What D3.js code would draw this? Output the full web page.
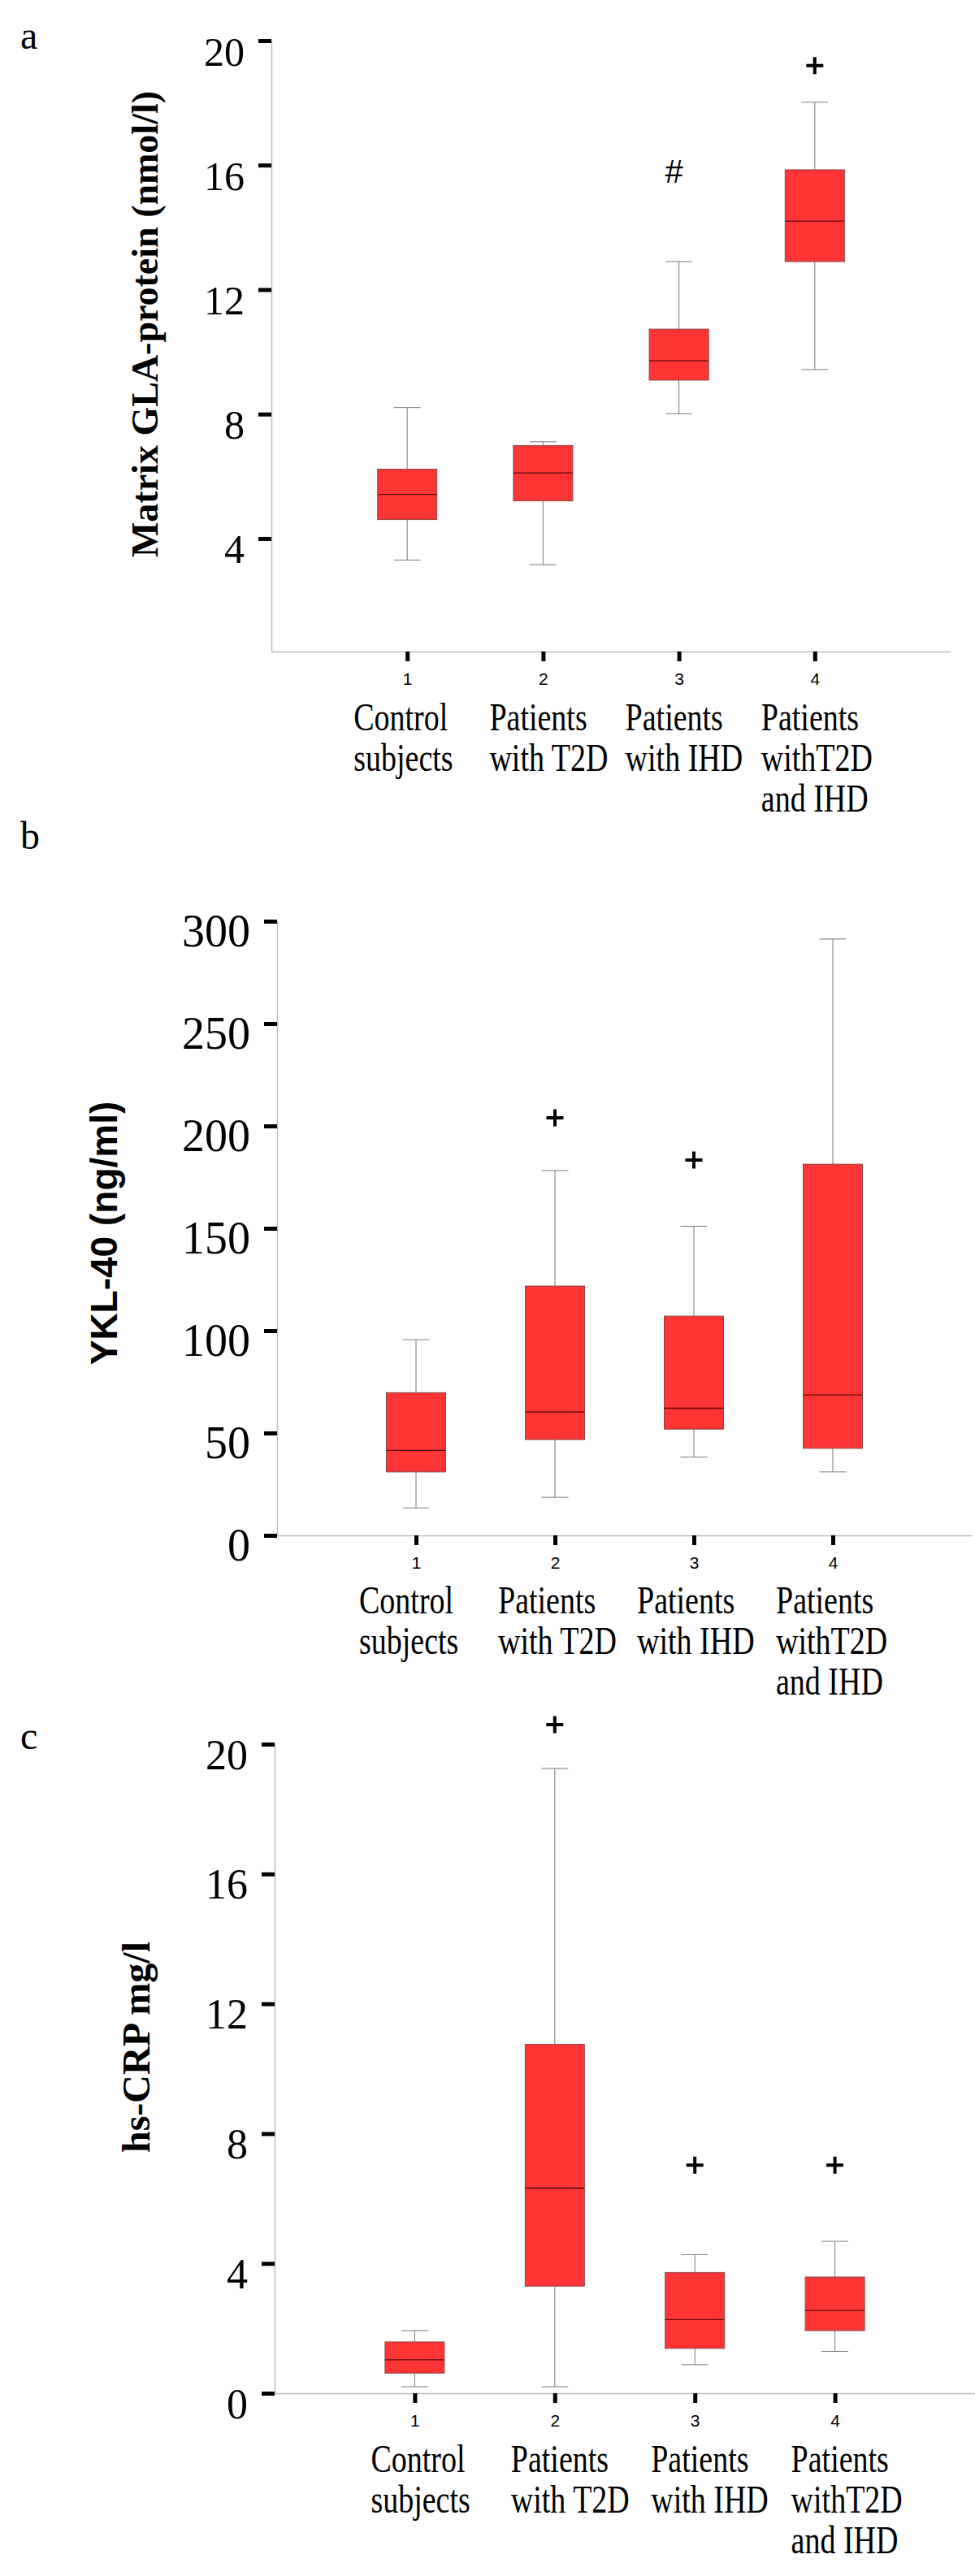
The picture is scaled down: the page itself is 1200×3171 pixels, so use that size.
<!DOCTYPE html>
<html><head><meta charset="utf-8">
<script src="https://cdn.jsdelivr.net/npm/d3@7"></script>
<style>body{margin:0;background:#fff} svg{display:block}</style>
</head><body>
<script>
// ---------- data ----------
const categories = ["1", "2", "3", "4"];
const groupLabels = [["Control", "subjects"], ["Patients", "with T2D"], ["Patients", "with IHD"], ["Patients", "withT2D", "and IHD"]];

// Panel a: Matrix GLA-protein (nmol/l)
const mgpTicks = [4, 8, 12, 16, 20];
const mgpWhiskerLow = [3.31, 3.16, 8.01, 9.43];
const mgpQ1 = [4.61, 5.21, 9.09, 12.90];
const mgpMedian = [5.42, 6.11, 9.71, 14.20];
const mgpQ3 = [6.23, 6.99, 10.73, 15.85];
const mgpWhiskerHigh = [8.21, 7.11, 12.90, 18.02];
const mgpMarkCats = ["3", "4"];
const mgpMarkValues = [15.8, 19.2];
const mgpMarkSymbols = ["#", "+"];

// Panel b: YKL-40 (ng/ml)
const yklTicks = [0, 50, 100, 150, 200, 250, 300];
const yklWhiskerLow = [13.4, 18.6, 38.2, 31.0];
const yklQ1 = [31.0, 46.8, 51.9, 42.5];
const yklMedian = [41.5, 60.3, 62.1, 68.6];
const yklQ3 = [69.7, 121.8, 107.1, 181.3];
const yklWhiskerHigh = [95.6, 178.2, 151.0, 291.3];
const yklMarkCats = ["2", "3"];
const yklMarkValues = [204.0, 183.3];
const yklMarkSymbols = ["+", "+"];

// Panel c: hs-CRP mg/l
const crpTicks = [0, 4, 8, 12, 16, 20];
const crpWhiskerLow = [0.20, 0.20, 0.88, 1.29];
const crpQ1 = [0.62, 3.30, 1.38, 1.93];
const crpMedian = [1.03, 6.32, 2.27, 2.55];
const crpQ3 = [1.58, 10.75, 3.72, 3.58];
const crpWhiskerHigh = [1.93, 19.25, 4.27, 4.68];
const crpMarkCats = ["2", "3", "4"];
const crpMarkValues = [20.6, 7.03, 7.03];
const crpMarkSymbols = ["+", "+", "+"];

// ---------- layout ----------
const SERIF = "'Liberation Serif','Times New Roman',serif";
const SANS = "'Liberation Sans',Arial,sans-serif";

const panels = [
  {letter: "a", letterY: 60, x0: 334, x1: 1170, yTop: 50, yBottom: 802, domain: [0.37, 20],
   ticks: mgpTicks, title: "Matrix GLA-protein (nmol/l)", titleFont: SERIF, titleSize: 46, titleX: 178, titleY: 399,
   tickFont: 50, labelOffset: -66, lineGap: 50, firstLine: 97,
   lo: mgpWhiskerLow, q1: mgpQ1, med: mgpMedian, q3: mgpQ3, hi: mgpWhiskerHigh,
   markCats: mgpMarkCats, markValues: mgpMarkValues, markSymbols: mgpMarkSymbols},
  {letter: "b", letterY: 1045, x0: 341, x1: 1196, yTop: 1134, yBottom: 1890, domain: [0, 300],
   ticks: yklTicks, title: "YKL-40 (ng/ml)", titleFont: SANS, titleSize: 46, titleX: 128, titleY: 1518,
   tickFont: 56, labelOffset: -70, lineGap: 50, firstLine: 96,
   lo: yklWhiskerLow, q1: yklQ1, med: yklMedian, q3: yklQ3, hi: yklWhiskerHigh,
   markCats: yklMarkCats, markValues: yklMarkValues, markSymbols: yklMarkSymbols},
  {letter: "c", letterY: 2153, x0: 338, x1: 1200, yTop: 2147, yBottom: 2946, domain: [0, 20],
   ticks: crpTicks, title: "hs-CRP mg/l", titleFont: SERIF, titleSize: 48, titleX: 167, titleY: 2520,
   tickFont: 52, labelOffset: -54, lineGap: 50, firstLine: 97,
   lo: crpWhiskerLow, q1: crpQ1, med: crpMedian, q3: crpQ3, hi: crpWhiskerHigh,
   markCats: crpMarkCats, markValues: crpMarkValues, markSymbols: crpMarkSymbols}
];

const svg = d3.select("body").append("svg")
  .attr("width", 1200).attr("height", 3171)
  .style("background", "#fff");

const BOX_W = 73, CAP_W = 33;

panels.forEach(p => {
  const g = svg.append("g");
  const x = d3.scalePoint().domain(categories).range([p.x0, p.x1]).padding(1);
  const y = d3.scaleLinear().domain(p.domain).range([p.yBottom, p.yTop]);

  // panel letter
  g.append("text").attr("x", 25).attr("y", p.letterY)
    .attr("font-family", SERIF).attr("font-size", 48).text(p.letter);

  // y axis title
  g.append("text")
    .attr("transform", `translate(${p.titleX},${p.titleY}) rotate(-90)`)
    .attr("text-anchor", "middle").attr("dominant-baseline", "central")
    .attr("font-family", p.titleFont).attr("font-weight", "bold").attr("font-size", p.titleSize)
    .text(p.title);

  // y axis
  const yAxis = g.append("g").attr("transform", `translate(${p.x0},0)`)
    .call(d3.axisLeft(y).tickValues(p.ticks).tickSize(16).tickSizeOuter(0).tickPadding(17).tickFormat(d3.format("d")));
  yAxis.select(".domain").attr("stroke", "#bdbdbd").attr("stroke-width", 1.5)
    .attr("d", `M0.5,${y(p.ticks[p.ticks.length - 1])}V${p.yBottom}`);
  yAxis.selectAll(".tick line").attr("stroke", "#000").attr("stroke-width", 5);
  yAxis.selectAll(".tick text").attr("font-family", SERIF).attr("font-size", p.tickFont)
    .attr("fill", "#000").attr("dy", 30);

  // x axis
  const xAxis = g.append("g").attr("transform", `translate(0,${p.yBottom})`)
    .call(d3.axisBottom(x).tickSize(12).tickSizeOuter(0));
  xAxis.select(".domain").attr("stroke", "#bdbdbd").attr("stroke-width", 1.5);
  xAxis.selectAll(".tick line").attr("stroke", "#000").attr("stroke-width", 5);
  xAxis.selectAll(".tick text").attr("font-family", SANS).attr("font-size", 21)
    .attr("fill", "#000").attr("y", 41).attr("dy", 0);

  // category labels
  categories.forEach((c, i) => {
    groupLabels[i].forEach((line, j) => {
      g.append("g")
        .attr("transform", `translate(${x(c) + p.labelOffset},${p.yBottom + p.firstLine + j * p.lineGap}) scale(1,1.3)`)
        .append("text").attr("x", 0).attr("y", 0)
        .attr("font-family", SERIF).attr("font-size", 38).attr("fill", "#000")
        .text(line);
    });
  });

  // boxes
  const stats = categories.map((c, i) => ({c, lo: p.lo[i], q1: p.q1[i], med: p.med[i], q3: p.q3[i], hi: p.hi[i]}));
  const bx = g.append("g").selectAll("g").data(stats).join("g");
  bx.append("line").attr("x1", d => x(d.c)).attr("x2", d => x(d.c))
    .attr("y1", d => y(d.hi)).attr("y2", d => y(d.q3)).attr("stroke", "#7a7a7a").attr("stroke-width", 1);
  bx.append("line").attr("x1", d => x(d.c)).attr("x2", d => x(d.c))
    .attr("y1", d => y(d.q1)).attr("y2", d => y(d.lo)).attr("stroke", "#7a7a7a").attr("stroke-width", 1);
  bx.append("line").attr("x1", d => x(d.c) - CAP_W / 2).attr("x2", d => x(d.c) + CAP_W / 2)
    .attr("y1", d => y(d.hi)).attr("y2", d => y(d.hi)).attr("stroke", "#7a7a7a").attr("stroke-width", 1);
  bx.append("line").attr("x1", d => x(d.c) - CAP_W / 2).attr("x2", d => x(d.c) + CAP_W / 2)
    .attr("y1", d => y(d.lo)).attr("y2", d => y(d.lo)).attr("stroke", "#7a7a7a").attr("stroke-width", 1);
  bx.append("rect").attr("x", d => x(d.c) - BOX_W / 2).attr("width", BOX_W)
    .attr("y", d => y(d.q3)).attr("height", d => y(d.q1) - y(d.q3))
    .attr("fill", "#ff3535").attr("stroke", "#8a4545").attr("stroke-width", 1);
  bx.append("line").attr("x1", d => x(d.c) - BOX_W / 2).attr("x2", d => x(d.c) + BOX_W / 2)
    .attr("y1", d => y(d.med)).attr("y2", d => y(d.med)).attr("stroke", "#5a0a0a").attr("stroke-width", 1.3);

  // markers
  p.markCats.forEach((c, i) => {
    const cx = x(c), cy = y(p.markValues[i]);
    if (p.markSymbols[i] === "+") {
      g.append("path").attr("d", `M${cx - 10.5},${cy}H${cx + 10.5}M${cx},${cy - 10.5}V${cy + 10.5}`)
        .attr("stroke", "#000").attr("stroke-width", 4).attr("fill", "none");
    } else {
      g.append("text").attr("x", cx - 6).attr("y", cy).attr("text-anchor", "middle")
        .attr("dominant-baseline", "central").attr("font-family", SANS).attr("font-size", 40)
        .text(p.markSymbols[i]);
    }
  });
});
</script>
</body></html>
